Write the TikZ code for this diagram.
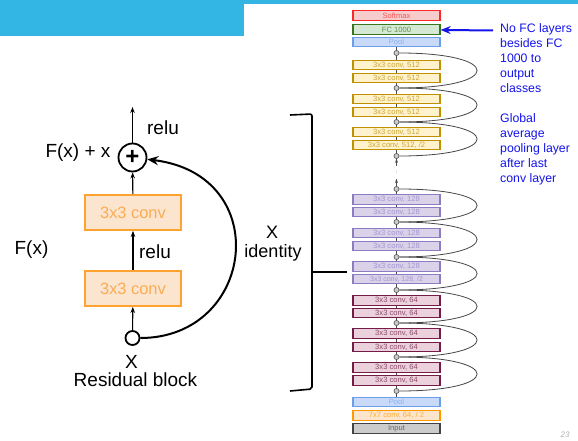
\documentclass[tikz,border=0pt]{standalone}
\usepackage{fontspec}
\setmainfont{Liberation Sans}
\usepackage{xcolor}
\usetikzlibrary{arrows.meta, positioning}
\definecolor{bannerblue}{RGB}{52,182,229}
\definecolor{resorange}{RGB}{255,163,48}
\definecolor{resfill}{RGB}{252,229,207}
\definecolor{restext}{RGB}{250,172,84}
\definecolor{softred}{RGB}{250,40,40}
\definecolor{softfill}{RGB}{246,204,204}
\definecolor{fcgreen}{RGB}{56,118,29}
\definecolor{fcfill}{RGB}{213,232,212}
\definecolor{poolblue}{RGB}{109,158,235}
\definecolor{poolfill}{RGB}{201,218,248}
\definecolor{goldline}{RGB}{191,144,0}
\definecolor{goldfill}{RGB}{255,242,204}
\definecolor{lavline}{RGB}{142,124,195}
\definecolor{lavfill}{RGB}{217,210,233}
\definecolor{wineline}{RGB}{116,27,71}
\definecolor{winefill}{RGB}{234,209,220}
\definecolor{convorange}{RGB}{255,153,0}
\definecolor{convfill}{RGB}{252,229,205}
\definecolor{inputgray}{RGB}{67,67,67}
\definecolor{inputfill}{RGB}{204,204,204}
\definecolor{noteblue}{RGB}{20,20,235}

\begin{document}
\begin{tikzpicture}[x=1pt, y=-1pt,
    bigtext/.style={font=\fontsize{19}{22}\selectfont},
    resconv/.style={draw=resorange, fill=resfill, text=restext, line width=1.8pt,
      minimum width=96pt, minimum height=35pt, inner sep=0pt,
      font=\fontsize{16.4}{18}\selectfont},
    arr/.style={line width=1.1pt, -{Stealth[length=6pt, width=4.5pt]}},
    layer/.style n args={2}{draw=#1, fill=#2, text=#1!80!white, line width=1.3pt,
      minimum width=87pt, minimum height=9.5pt, inner sep=0pt,
      font=\fontsize{7.6}{8}\selectfont},
    blob/.style={circle, draw=gray!60!black, fill=gray!40, line width=0.6pt,
      inner sep=0pt, minimum size=5pt},
    link/.style={draw=gray!60!black, line width=0.7pt},
    hop/.style={draw=gray!55!black, line width=0.8pt}]
  \useasboundingbox (0,0) rectangle (578,441);
  % title bar
  \fill[bannerblue] (0,0) rectangle (244,36);
  \fill[bannerblue] (244,0) rectangle (578,4);

  % residual block
  \node[circle, draw, line width=1.8pt, minimum size=28pt, inner sep=0pt,
    font=\fontsize{24}{24}\bfseries] (plus) at (132.5,157.5) {+};
  \node[resconv] (convb) at (133,212.5) {3x3 conv};
  \node[resconv] (conva) at (133,288.5) {3x3 conv};
  \node[circle, draw, fill=white, line width=1.8pt, minimum size=14pt, inner sep=0pt]
    (xin) at (132.5,338) {};
  \coordinate (out) at (132.5,107);
  \draw[arr] (plus) -- (out);
  \draw[arr] (convb) -- (plus);
  \draw[arr] (conva) -- (convb);
  \draw[arr] (xin) -- (conva);
  \draw[line width=2pt, -{Stealth[length=11pt, width=9pt]}]
    (xin) .. controls (255,338) and (275,175) .. (plus);
  \node[bigtext] (relutop) at (163,127.5) {relu};
  \node[bigtext] (sum) at (78,153) {F(x) + x};
  \node[bigtext] (relumid) at (155,252) {relu};
  \node[bigtext] (fx) at (31.5,249.5) {F(x)};
  \node[bigtext] (xlab) at (131.5,362) {X};
  \node[bigtext] (caption) at (135.5,380) {Residual block};
  \node[font=\fontsize{18}{20}\selectfont] (xid) at (272,232) {X};
  \node[font=\fontsize{18}{20}\selectfont] (ident) at (273,253) {identity};

  % bracket
  \draw[line width=1.6pt, rounded corners=2pt] (290,115) -- (312,114) -- (312,389) -- (290,391);
  \draw[line width=1.6pt] (312,272) -- (347,272);

  % network column
  \coordinate (gapa) at (396.5,179);
  \coordinate (gapb) at (396.5,166);
  \draw[link] (396.5,47) -- (gapb);
  \draw[link] (gapa) -- (396.5,397);
  \node[layer={softred}{softfill}] (softmax) at (396.5,15.5) {Softmax};
  \node[layer={fcgreen}{fcfill}] (fc) at (396.5,29.5) {FC 1000};
  \node[layer={poolblue}{poolfill}] (pooltop) at (396.5,42) {Pool};
  \node[blob] (d1) at (396.5,53) {};
  \node[layer={goldline}{goldfill}] (c1) at (396.5,65) {3x3 conv, 512};
  \node[layer={goldline}{goldfill}] (c2) at (396.5,78) {3x3 conv, 512};
  \node[blob] (d2) at (396.5,88) {};
  \node[layer={goldline}{goldfill}] (c3) at (396.5,99) {3x3 conv, 512};
  \node[layer={goldline}{goldfill}] (c4) at (396.5,112) {3x3 conv, 512};
  \node[blob] (d3) at (396.5,122) {};
  \node[layer={goldline}{goldfill}] (c5) at (396.5,132) {3x3 conv, 512};
  \node[layer={goldline}{goldfill}] (c6) at (396.5,145) {3x3 conv, 512, /2};
  \node[blob] (d4) at (396.5,156) {};
  \node[font=\fontsize{5}{5}\selectfont, text=gray!70!black, inner sep=0pt] (dots) at (396.5,172.5) {:};
  \node[blob] (d5) at (396.5,189) {};
  \node[layer={lavline}{lavfill}] (c7) at (396.5,199.5) {3x3 conv, 128};
  \node[layer={lavline}{lavfill}] (c8) at (396.5,212) {3x3 conv, 128};
  \node[blob] (d6) at (396.5,222) {};
  \node[layer={lavline}{lavfill}] (c9) at (396.5,233) {3x3 conv, 128};
  \node[layer={lavline}{lavfill}] (c10) at (396.5,246) {3x3 conv, 128};
  \node[blob] (d7) at (396.5,257) {};
  \node[layer={lavline}{lavfill}] (c11) at (396.5,266.5) {3x3 conv, 128};
  \node[layer={lavline}{lavfill}, font=\fontsize{7}{8}\selectfont] (c12) at (396.5,279) {3x3 conv, 128, /2};
  \node[blob] (d8) at (396.5,290) {};
  \node[layer={wineline}{winefill}] (c13) at (396.5,300.5) {3x3 conv, 64};
  \node[layer={wineline}{winefill}] (c14) at (396.5,313) {3x3 conv, 64};
  \node[blob] (d9) at (396.5,323) {};
  \node[layer={wineline}{winefill}] (c15) at (396.5,333.5) {3x3 conv, 64};
  \node[layer={wineline}{winefill}] (c16) at (396.5,347) {3x3 conv, 64};
  \node[blob] (d10) at (396.5,357) {};
  \node[layer={wineline}{winefill}] (c17) at (396.5,367.5) {3x3 conv, 64};
  \node[layer={wineline}{winefill}] (c18) at (396.5,380.5) {3x3 conv, 64};
  \node[blob] (d11) at (396.5,391) {};
  \node[layer={poolblue}{poolfill}] (poolbot) at (396.5,402) {Pool};
  \node[layer={convorange}{convfill}] (conv7) at (396.5,415.5) {7x7 conv, 64, / 2};
  \node[layer={inputgray}{inputfill}] (input) at (396.5,428.5) {Input};
  \draw[link, -{Stealth[length=4pt, width=3pt]}] (d5) -- (gapa);
  \draw[link, -{Stealth[length=4pt, width=3pt]}] (gapb) -- (d4);

  % shortcut loops
  \draw[hop] (d1) .. controls (503,53) and (503,88) .. (d2);
  \draw[hop] (d2) .. controls (503,88) and (503,122) .. (d3);
  \draw[hop] (d3) .. controls (503,122) and (503,156) .. (d4);
  \draw[hop] (d5) .. controls (503,189) and (503,222) .. (d6);
  \draw[hop] (d6) .. controls (503,222) and (503,257) .. (d7);
  \draw[hop] (d7) .. controls (503,257) and (503,290) .. (d8);
  \draw[hop] (d8) .. controls (503,290) and (503,323) .. (d9);
  \draw[hop] (d9) .. controls (503,323) and (503,357) .. (d10);
  \draw[hop] (d10) .. controls (503,357) and (503,391) .. (d11);

  % notes
  \coordinate (notetip) at (493,30.5);
  \draw[noteblue, line width=2pt, -{Stealth[length=10pt, width=8pt]}] (notetip) -- (fc);
  \node[text=noteblue, align=left, anchor=north west, inner sep=0pt,
    font=\fontsize{12.3}{15}\selectfont] (notefc) at (500,23.5)
    {No FC layers\\besides FC\\1000 to\\output\\classes};
  \node[text=noteblue, align=left, anchor=north west, inner sep=0pt,
    font=\fontsize{12.3}{15}\selectfont] (notepool) at (500,113.5)
    {Global\\average\\pooling layer\\after last\\conv layer};
  \node[text=gray!60, font=\fontsize{8}{8}\itshape, inner sep=1pt] (pagenum) at (565,435) {23};
\end{tikzpicture}
\end{document}
